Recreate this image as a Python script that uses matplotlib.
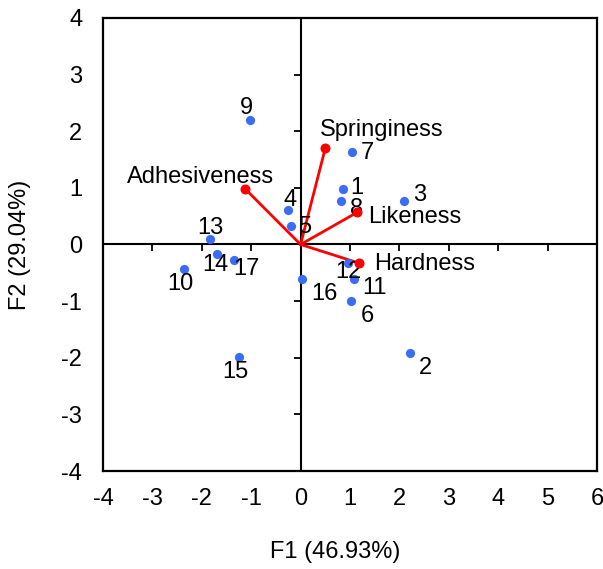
import numpy as np
import matplotlib
matplotlib.use("Agg")
import matplotlib.pyplot as plt

plt.rcParams['font.family'] = ['Liberation Sans', 'DejaVu Sans']
plt.rcParams['axes.unicode_minus'] = False

# Observation scores (F1, F2)
obs_labels = ['1', '2', '3', '4', '5', '6', '7', '8', '9', '10',
              '11', '12', '13', '14', '15', '16', '17']
obs_f1 = [0.85, 2.21, 2.09, -0.25, -0.19, 1.03, 1.04, 0.81, -1.03, -2.35,
          1.08, 0.96, -1.84, -1.70, -1.25, 0.02, -1.35]
obs_f2 = [0.98, -1.92, 0.77, 0.61, 0.33, -0.99, 1.63, 0.77, 2.19, -0.43,
          -0.61, -0.32, 0.10, -0.17, -1.99, -0.61, -0.27]

# Variable loadings
var_labels = ['Adhesiveness', 'Springiness', 'Likeness', 'Hardness']
var_f1 = [-1.12, 0.50, 1.15, 1.19]
var_f2 = [0.98, 1.70, 0.57, -0.33]

xticks = [-4, -3, -2, -1, 0, 1, 2, 3, 4, 5, 6]
yticks = [-4, -3, -2, -1, 0, 1, 2, 3, 4]

# label offsets in pixels (dx, dy)
obs_off = {'1': (14, 1), '2': (16, -15), '3': (16, 6), '4': (2, 10), '5': (13, -1),
           '6': (16, -15), '7': (15, -1), '8': (16, -8), '9': (-3, 12), '10': (-4, -15),
           '11': (21, -9), '12': (0, -9), '13': (1, 11), '14': (-1, -11), '15': (-3, -15),
           '16': (23, -15), '17': (13, -9)}
var_off = {'Adhesiveness': (-45, 12), 'Springiness': (56, 18),
           'Likeness': (57, -5), 'Hardness': (65, -1)}

fig = plt.figure(figsize=(6.03, 5.69), dpi=100)
ax = fig.add_axes([0.1708, 0.1722, 0.8192, 0.7962])
fs = 17

ax.set_xlim(-4, 6)
ax.set_ylim(-4, 4)
ax.set_xticks(xticks)
ax.set_yticks(yticks)
ax.tick_params(length=0, labelsize=fs)
ax.tick_params(axis='x', pad=12)
ax.tick_params(axis='y', pad=15)
for s in ax.spines.values():
    s.set_linewidth(1.6)

# crosshair through the origin with its own tick marks
ax.axhline(0, color='black', lw=1.5, zorder=1)
ax.axvline(0, color='black', lw=1.5, zorder=1)
ax.plot(xticks[1:-1], np.zeros(len(xticks) - 2), ls='none', marker=3,
        ms=5, mew=1.3, color='black', zorder=1)
ax.plot(np.zeros(len(yticks) - 2), yticks[1:-1], ls='none', marker=0,
        ms=5, mew=1.3, color='black', zorder=1)

# loading vectors
for x, y in zip(var_f1, var_f2):
    ax.plot([0, x], [0, y], color='#ff0000', lw=2, zorder=2)

ax.scatter(obs_f1, obs_f2, s=44, color='#3b6cf5', zorder=3, linewidths=0)
ax.scatter(var_f1, var_f2, s=52, color='#ff0000', zorder=4, linewidths=0)

for lab, x, y in zip(obs_labels, obs_f1, obs_f2):
    ax.annotate(lab, (x, y), xytext=obs_off[lab], textcoords='offset pixels',
                ha='center', va='center', fontsize=fs)
for lab, x, y in zip(var_labels, var_f1, var_f2):
    ax.annotate(lab, (x, y), xytext=var_off[lab], textcoords='offset pixels',
                ha='center', va='center', fontsize=fs)

fig.text(335 / 603, 1 - 552 / 569, 'F1 (46.93%)', ha='center', va='center', fontsize=fs)
fig.text(20 / 603, 1 - 245 / 569, 'F2 (29.04%)', ha='center', va='center',
         rotation=90, fontsize=fs)

fig.savefig('out.png', dpi=100)
